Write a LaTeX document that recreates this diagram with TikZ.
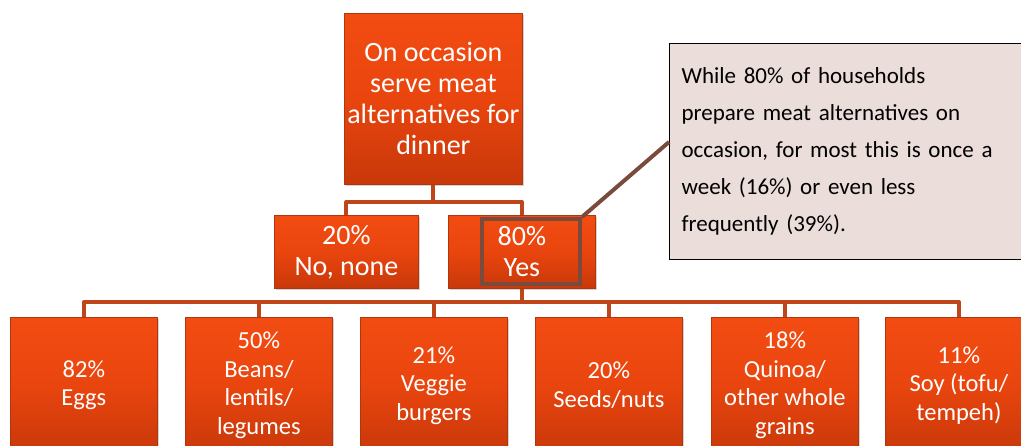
\documentclass[tikz,border=0pt]{standalone}
\usepackage{fontspec}
\setmainfont{Carlito}
\usetikzlibrary{shadows}
\definecolor{boxtop}{HTML}{F24C12}
\definecolor{boxmid}{HTML}{E9450E}
\definecolor{boxbot}{HTML}{C8380A}
\definecolor{boxedge}{HTML}{B0360C}
\definecolor{conn}{HTML}{BF461A}
\definecolor{hilite}{HTML}{7A4B3C}
\definecolor{callfill}{HTML}{EBDDD9}
\begin{document}
\begin{tikzpicture}[x=1pt,y=-1pt,
  orgbox/.style={draw=boxedge,line width=0.8pt,top color=boxtop,bottom color=boxbot,middle color=boxmid,
    drop shadow={opacity=0.35,shadow xshift=1.5pt,shadow yshift=-2pt},
    text=white,align=center,inner sep=0pt,anchor=north west},
  bigtext/.style={font=\fontsize{28}{31}\selectfont},
  smalltext/.style={font=\fontsize{24.5}{28.5}\selectfont},
  link/.style={draw=conn,line width=4pt},
]
\useasboundingbox (0,0) rectangle (1021,445);
% top node
\node[orgbox,bigtext,minimum width=178pt,minimum height=171pt] (top) at (344,13) {On occasion\\serve meat\\alternatives for\\dinner};
% middle
\node[orgbox,bigtext,minimum width=144pt,minimum height=73pt] (no) at (274,215) {20\%\\No, none};
\node[orgbox,bigtext,minimum width=147pt,minimum height=73pt] (yes) at (448,215) {80\%\\Yes};
% bottom
\foreach \i/\x/\t in {1/10/{82\%\\Eggs},2/185/{50\%\\Beans/\\lentils/\\legumes},3/360/{21\%\\Veggie\\burgers},4/535/{20\%\\Seeds/nuts},5/711/{18\%\\Quinoa/\\other whole\\grains},6/885/{11\%\\Soy (tofu/\\tempeh)}}
  \node[orgbox,smalltext,minimum width=147pt,minimum height=136pt] (b\i) at (\x,317) {\t};
% connectors
\coordinate (h1) at (0,202);
\coordinate (h2) at (0,302);
\draw[link,line join=round] (top.south) -- (top.south |- h1);
\draw[link,line join=round] (no.north) -- (no.north |- h1) -- (yes.north |- h1) -- (yes.north);
\draw[link] (yes.south) -- (yes.south |- h2);
\draw[link,line join=round] (b1.north) -- (b1.north |- h2) -- (b6.north |- h2) -- (b6.north);
\foreach \i in {2,3,4,5} \draw[link] (b\i.north |- h2) -- (b\i.north);
% callout
\node[draw=black,line width=1.2pt,fill=callfill,anchor=north west,minimum width=400pt,minimum height=216pt,
  align=left,text width=380pt,inner xsep=12pt,font=\fontsize{23}{37}\selectfont,text=black] (call) at (669,43)
  {While 80\% of households\\prepare meat alternatives on\\occasion, for most this is once a\\week (16\%) or even less\\frequently (39\%).};
\node[draw=hilite,line width=4pt,minimum width=98pt,minimum height=65pt,anchor=north west] (hl) at (480,217) {};
\coordinate (ce) at (669,142);
\draw[hilite,line width=4pt] (hl.north east) -- (ce);
\end{tikzpicture}
\end{document}
